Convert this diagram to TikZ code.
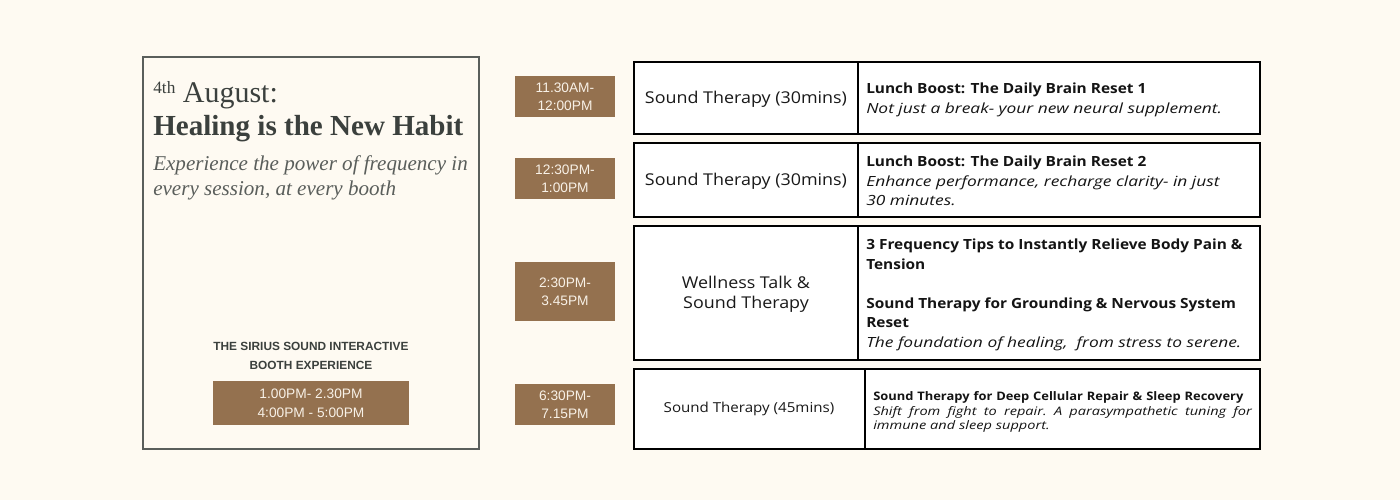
\documentclass[tikz,border=0pt]{standalone}
\usepackage{fontspec}
\setmainfont{Liberation Serif}
\newfontfamily\bodyfont[FakeStretch=1.1, ItalicFeatures={FakeStretch=1.24}]{Open Sans}
\newfontfamily\labelfont{Liberation Sans}
\definecolor{cream}{HTML}{FEFAF2}
\definecolor{bark}{HTML}{94714F}
\definecolor{ink}{HTML}{3B403D}
\definecolor{slate}{HTML}{5A5E5B}
\definecolor{chalk}{HTML}{F8F1E7}
\tikzset{
  timebox/.style={fill=bark},
  timetext/.style={text=chalk, font=\labelfont\fontsize{10.3}{13.2}\selectfont, align=center},
  rowbox/.style={draw=black, line width=1.1pt, fill=white},
  sessiontext/.style={font=\bodyfont\fontsize{12.2}{15}\selectfont, align=center, text=black!90},
  infotext/.style={font=\bodyfont\fontsize{10.5}{14.6}\selectfont, align=left, anchor=west, inner sep=0pt, text=black!92},
  smallinfo/.style={font=\bodyfont\fontsize{8.8}{11}\selectfont, align=left, anchor=west, inner sep=0pt, text=black!92, text width=284pt},
}

\begin{document}
\begin{tikzpicture}[x=0.75pt, y=-0.75pt]
		%%%%% START %%%%%
		
		\fill[cream] (0, 0) rectangle (1400, 500);
		
		% left panel
		\draw[line width=0.8pt, color=slate, fill=cream] (143, 57) rectangle (479, 449);
		\node[anchor=base west, inner sep=0pt, text=ink, font=\fontsize{22.5}{24}\selectfont] (date) at (153, 102) {\raisebox{0.62ex}{\fontsize{13}{13}\selectfont 4th} August:};
		\node[anchor=base west, inner sep=0pt, text=ink, font=\bfseries\fontsize{21.8}{24}\selectfont] (title) at (153, 135) {Healing is the New Habit};
		\node[anchor=base west, inner sep=0pt, text=slate, font=\itshape\fontsize{15.8}{18}\selectfont] (sub1) at (153, 170) {Experience the power of frequency in};
		\node[anchor=base west, inner sep=0pt, text=slate, font=\itshape\fontsize{15.8}{18}\selectfont] (sub2) at (153, 195) {every session, at every booth};
		
		\node[text=ink, align=center, font=\labelfont\bfseries\fontsize{8.9}{13.7}\selectfont] (booth) at (311, 356) {THE SIRIUS SOUND INTERACTIVE\\BOOTH EXPERIENCE};
		\fill[timebox] (213, 381) rectangle (409, 425);
		\node[timetext, font=\labelfont\fontsize{10.3}{14}\selectfont] (boothtime) at (311, 403) {1.00PM- 2.30PM\\4:00PM - 5:00PM};
		
		% time slots
		\fill[timebox] (515, 76) rectangle (615, 117);
		\node[timetext] (slot1) at (565, 96.5) {11.30AM-\\12:00PM};
		\fill[timebox] (515, 158) rectangle (615, 199);
		\node[timetext] (slot2) at (565, 178.5) {12:30PM-\\1:00PM};
		\fill[timebox] (515, 262) rectangle (615, 321);
		\node[timetext] (slot3) at (565, 291.5) {2:30PM-\\3.45PM};
		\fill[timebox] (515, 384) rectangle (615, 425);
		\node[timetext] (slot4) at (565, 404.5) {6:30PM-\\7.15PM};
		
		% sessions
		\draw[rowbox] (634, 62) rectangle (1260, 134);
		\draw[line width=1.1pt] (858, 62) -- (858, 134);
		\node[sessiontext] (kind1) at (746, 99) {Sound Therapy (30mins)};
		\node[infotext] (info1) at (866, 100) {\textbf{Lunch Boost: The Daily Brain Reset 1}\\\textit{Not just a break- your new neural supplement.}};
		
		\draw[rowbox] (634, 143) rectangle (1260, 217);
		\draw[line width=1.1pt] (858, 143) -- (858, 217);
		\node[sessiontext] (kind2) at (746, 181) {Sound Therapy (30mins)};
		\node[infotext] (info2) at (866, 181) {\textbf{Lunch Boost: The Daily Brain Reset 2}\\\textit{Enhance performance, recharge clarity- in just}\\\textit{30 minutes.}};
		
		\draw[rowbox] (634, 226) rectangle (1260, 360);
		\draw[line width=1.1pt] (858, 226) -- (858, 360);
		\node[sessiontext] (kind3) at (746, 294) {Wellness Talk \&\\Sound Therapy};
		\node[infotext] (info3) at (866, 295) {\textbf{3 Frequency Tips to Instantly Relieve Body Pain \&}\\\textbf{Tension}\\[14.6pt]\textbf{Sound Therapy for Grounding \& Nervous System}\\\textbf{Reset}\\\textit{The foundation of healing,\ \ from stress to serene.}};
		
		\draw[rowbox] (634, 369) rectangle (1260, 449);
		\draw[line width=1.1pt] (865, 369) -- (865, 449);
		\node[sessiontext, font=\bodyfont\fontsize{10.3}{13}\selectfont] (kind4) at (749, 409) {Sound Therapy (45mins)};
		\node[smallinfo] (info4) at (873, 412) {\textbf{Sound Therapy for Deep Cellular Repair \& Sleep Recovery}\\\leavevmode\hbox to 284pt{\itshape Shift\hfill from\hfill fight\hfill to\hfill repair.\hfill A\hfill parasympathetic\hfill tuning\hfill for}\\\textit{immune and sleep support.}};
		
		%%%%% END %%%%%
\end{tikzpicture}
\end{document}
